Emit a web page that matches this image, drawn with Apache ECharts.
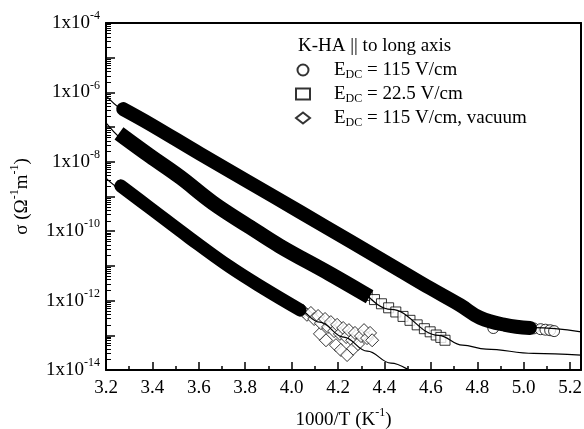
<!DOCTYPE html>
<html>
<head>
<meta charset="utf-8">
<script src="https://cdn.jsdelivr.net/npm/echarts@6/dist/echarts.min.js"></script>
<style>
  html, body { margin: 0; padding: 0; background: #fff; }
  #chart { width: 584px; height: 429px; }
</style>
</head>
<body>
<div id="chart"></div>
<script>
'use strict';

// legend names / labels
const seriesNames = ['E_DC = 115 V/cm', 'E_DC = 22.5 V/cm', 'E_DC = 115 V/cm, vacuum'];
const legendLabels = ['E{sub|DC} = 115 V/cm', 'E{sub|DC} = 22.5 V/cm', 'E{sub|DC} = 115 V/cm, vacuum'];

// tick labels
const xLabelValues = [3.2, 3.4, 3.6, 3.8, 4.0, 4.2, 4.4, 4.6, 4.8, 5.0, 5.2];
const xMinorValues = [3.3, 3.5, 3.7, 3.9, 4.1, 4.3, 4.5, 4.7, 4.9, 5.1];
const yLabelValues = [1e-14, 1e-12, 1e-10, 1e-8, 1e-6, 1e-4];
const yDecades = [1e-14, 1e-13, 1e-12, 1e-11, 1e-10, 1e-9, 1e-8, 1e-7, 1e-6, 1e-5, 1e-4];

// circles, E_DC = 115 V/cm (dense band + sparse tail)
const circleBandX = [3.274, 3.389, 3.605, 3.820, 4.036, 4.251, 4.467, 4.596, 4.726, 4.812, 4.920, 5.027];
const circleBandSigma = [3.3e-7, 1.23e-7, 1.7e-8, 2.5e-9, 3.6e-10, 5.2e-11, 7.4e-12, 2.3e-12, 7.4e-13, 3.2e-13, 2.0e-13, 1.62e-13];
const circleTailX = [4.869, 4.971, 5.043, 5.073, 5.094, 5.114, 5.131];
const circleTailSigma = [1.62e-13, 1.7e-13, 1.58e-13, 1.5e-13, 1.45e-13, 1.4e-13, 1.32e-13];
const circleFitX = [3.2, 3.405, 3.609, 3.814, 4.019, 4.224, 4.428, 4.633, 4.736, 4.838, 4.940, 5.043, 5.247];
const circleFitSigma = [7.9e-7, 1.1e-7, 1.66e-8, 2.63e-9, 4.27e-10, 6.76e-11, 1.07e-11, 1.74e-12, 6.8e-13, 2.95e-13, 2.1e-13, 1.66e-13, 1.26e-13];

// squares, E_DC = 22.5 V/cm
const squareBandX = [3.282, 3.389, 3.519, 3.662, 3.820, 3.950, 4.165, 4.308];
const squareBandSigma = [4.9e-8, 1.48e-8, 3.63e-9, 6.46e-10, 1.32e-10, 3.7e-11, 5.9e-12, 1.66e-12];
const squareTailX = [4.326, 4.357, 4.387, 4.418, 4.449, 4.480, 4.510, 4.541, 4.572, 4.597, 4.623, 4.643, 4.661];
const squareTailSigma = [1.41e-12, 1.07e-12, 8.1e-13, 6.2e-13, 4.7e-13, 3.5e-13, 2.7e-13, 2.0e-13, 1.55e-13, 1.26e-13, 1.02e-13, 8.7e-14, 7.2e-14];
const squareFitX = [3.2, 3.405, 3.609, 3.814, 4.019, 4.224, 4.428, 4.633, 4.736, 4.838, 5.043, 5.247];
const squareFitSigma = [1.32e-7, 1.26e-8, 1.23e-9, 1.41e-10, 1.9e-11, 3.5e-12, 5.6e-13, 1.0e-13, 5.2e-14, 4.0e-14, 3.0e-14, 2.7e-14];

// diamonds, E_DC = 115 V/cm, vacuum
const diamondBandX = [3.264, 3.389, 3.562, 3.734, 3.885, 4.036];
const diamondBandSigma = [2.0e-9, 4.7e-10, 6.3e-11, 9.3e-12, 2.14e-12, 5.4e-13];
const diamondTailX = [4.050, 4.066, 4.083, 4.097, 4.114, 4.122, 4.126, 4.144, 4.148, 4.157, 4.169, 4.183, 4.191, 4.196,
  4.208, 4.212, 4.222, 4.235, 4.239, 4.247, 4.261, 4.265, 4.273, 4.286, 4.299, 4.312, 4.325, 4.338, 4.347];
const diamondTailSigma = [5.0e-13, 3.9e-13, 4.4e-13, 2.95e-13, 3.6e-13, 1.1e-13, 2.24e-13, 2.95e-13, 7.2e-14, 1.74e-13, 2.4e-13, 1.32e-13, 5.2e-14, 2.0e-13,
  1.1e-13, 3.8e-14, 1.62e-13, 8.9e-14, 2.7e-14, 1.41e-13, 7.2e-14, 4.1e-14, 1.17e-13, 5.6e-14, 9.5e-14, 1.41e-13, 8.3e-14, 1.17e-13, 7.2e-14];
const diamondFitX = [3.2, 3.302, 3.405, 3.609, 3.814, 4.019, 4.121, 4.224, 4.326, 4.428, 4.531];
const diamondFitSigma = [3.4e-9, 1.29e-9, 4.3e-10, 4.0e-11, 4.3e-12, 6.3e-13, 2.4e-13, 8.9e-14, 3.5e-14, 1.58e-14, 7.6e-15];

const FONT = "'Liberation Serif', 'Times New Roman', serif";
const X_MIN = 3.2, X_MAX = 5.247, Y_MIN = 1e-14, Y_MAX = 1e-4;

function pairs(xs, ys) {
  return xs.map(function(x, i) { return [x, ys[i]]; });
}

// minor ticks at 2..9 within each decade
let yMinor = [];
yDecades.slice(0, -1).forEach(function(d) {
  for (let k = 2; k <= 9; k++) { yMinor.push(k * d); }
});

function fitLine(xs, ys) {
  return {
    type: 'line', data: pairs(xs, ys), smooth: 0.4, smoothMonotone: 'x',
    showSymbol: false, silent: true,
    lineStyle: { color: '#000', width: 1.2 }
  };
}
function band(xs, ys, w, cap) {
  return {
    type: 'line', data: pairs(xs, ys), smooth: 0.4,
    showSymbol: false, silent: true,
    lineStyle: { color: '#000', width: w, cap: cap, join: 'round' }
  };
}
function markers(name, symbol, size, xs, ys, tx, ty) {
  return {
    type: 'scatter', name: name, symbol: symbol, symbolSize: size,
    data: pairs(xs, ys).concat(pairs(tx, ty)), silent: true,
    itemStyle: { color: '#fff', borderColor: '#000', borderWidth: 1 }
  };
}
// bare frame line (top / right edge)
function frameAxis(type, pos) {
  let a = {
    type: type, position: pos,
    axisLine: { show: true, lineStyle: { color: '#000', width: 2 } },
    axisTick: { show: false }, axisLabel: { show: false }, splitLine: { show: false }
  };
  if (type === 'log') { a.min = Y_MIN; a.max = Y_MAX; } else { a.min = X_MIN; a.max = X_MAX; }
  return a;
}

let supStyle = { fontFamily: FONT, fontSize: 12, color: '#000', verticalAlign: 'top' };

let chart = echarts.init(document.getElementById('chart'));
chart.setOption({
  animation: false,
  title: {
    text: 'K-HA || to long axis', left: 298, top: 37, padding: 0,
    textStyle: { fontFamily: FONT, fontSize: 19, fontWeight: 'normal', color: '#000' }
  },
  legend: {
    orient: 'vertical', left: 295, top: 59, padding: 0,
    itemWidth: 14, itemHeight: 11, itemGap: 2, selectedMode: false,
    data: seriesNames,
    formatter: function(name) { return legendLabels[seriesNames.indexOf(name)]; },
    textStyle: {
      fontFamily: FONT, fontSize: 19, color: '#000', lineHeight: 22, padding: [0, 0, 0, 19],
      rich: { sub: { fontFamily: FONT, fontSize: 12, color: '#000', verticalAlign: 'bottom' } }
    }
  },
  grid: {
    left: 106, right: 3, top: 23, bottom: 59,
    outerBoundsMode: 'none', containLabel: false
  },
  xAxis: [{
    type: 'value', min: X_MIN, max: X_MAX,
    name: '1000/T (K{sup|-1})', nameLocation: 'middle', nameGap: 37,
    nameTextStyle: { fontFamily: FONT, fontSize: 19, color: '#000', lineHeight: 26, rich: { sup: supStyle } },
    axisLine: { show: true, lineStyle: { color: '#000', width: 2 } },
    axisTick: { show: true, inside: true, length: 8, customValues: xLabelValues, lineStyle: { color: '#000', width: 1.5 } },
    axisLabel: {
      customValues: xLabelValues, margin: 9, fontFamily: FONT, fontSize: 19, color: '#000',
      formatter: function(v) { return v.toFixed(1); }
    },
    splitLine: { show: false }
  }, {
    type: 'value', min: X_MIN, max: X_MAX, position: 'bottom',
    axisLine: { show: false },
    axisTick: { show: true, inside: true, length: 4, customValues: xMinorValues, lineStyle: { color: '#000', width: 1.5 } },
    axisLabel: { show: false },
    splitLine: { show: false }
  }, frameAxis('value', 'top')],
  yAxis: [{
    type: 'log', logBase: 10, min: Y_MIN, max: Y_MAX,
    name: 'σ (Ω{sup|-1}m{sup|-1})', nameLocation: 'middle', nameGap: 64,
    nameTextStyle: { fontFamily: FONT, fontSize: 19, color: '#000', lineHeight: 26, rich: { sup: supStyle } },
    axisLine: { show: true, lineStyle: { color: '#000', width: 2 } },
    axisTick: { show: true, inside: true, length: 9, customValues: yDecades, lineStyle: { color: '#000', width: 1.5 } },
    axisLabel: {
      customValues: yLabelValues, margin: 6,
      fontFamily: FONT, fontSize: 19, color: '#000', lineHeight: 26,
      formatter: function(v) { return '1x10{sup|' + Math.round(Math.log10(v)) + '}'; },
      rich: { sup: supStyle }
    },
    splitLine: { show: false }
  }, {
    type: 'log', logBase: 10, min: Y_MIN, max: Y_MAX, position: 'left',
    axisLine: { show: false },
    axisTick: { show: true, inside: true, length: 5, customValues: yMinor, lineStyle: { color: '#000', width: 1 } },
    axisLabel: { show: false },
    splitLine: { show: false }
  }, frameAxis('log', 'right')],
  series: [
    fitLine(circleFitX, circleFitSigma),
    fitLine(squareFitX, squareFitSigma),
    fitLine(diamondFitX, diamondFitSigma),
    markers(seriesNames[0], 'circle', 11, circleBandX, circleBandSigma, circleTailX, circleTailSigma),
    markers(seriesNames[1], 'rect', 10, squareBandX, squareBandSigma, squareTailX, squareTailSigma),
    markers(seriesNames[2], 'diamond', 13, diamondBandX, diamondBandSigma, diamondTailX, diamondTailSigma),
    band(circleBandX, circleBandSigma, 14, 'round'),
    band(squareBandX, squareBandSigma, 15, 'square'),
    band(diamondBandX, diamondBandSigma, 13, 'round')
  ]
});
</script>
</body>
</html>
